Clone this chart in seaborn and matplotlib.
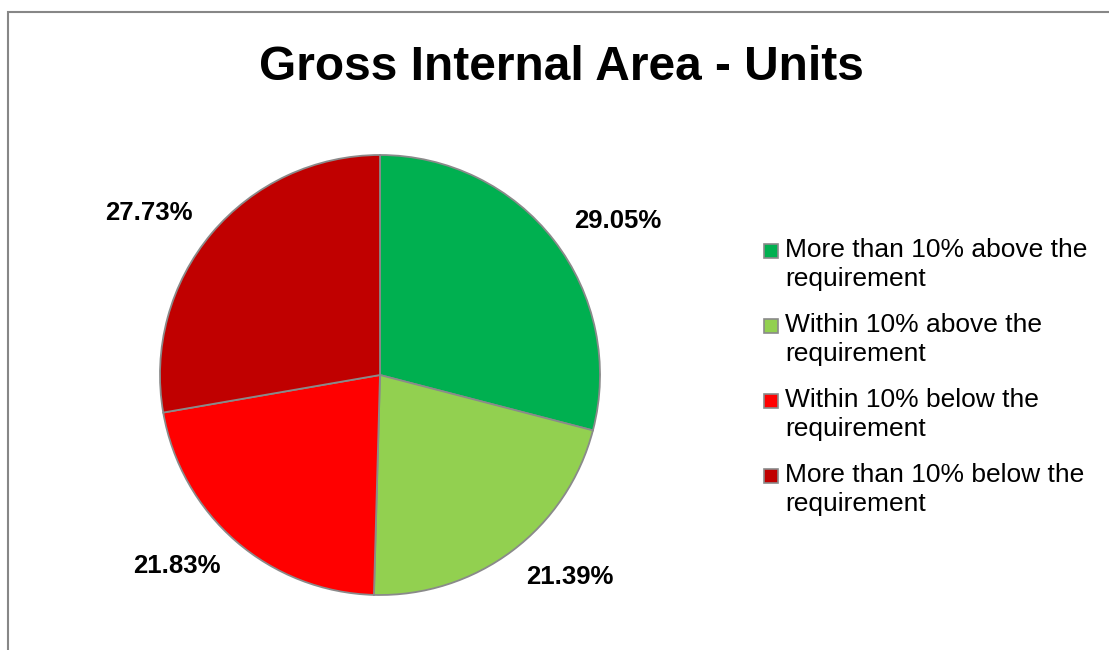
import textwrap
import numpy as np
import matplotlib
matplotlib.use("Agg")
import matplotlib.pyplot as plt
import matplotlib.transforms as mtransforms
from matplotlib.patches import Rectangle
import seaborn as sns

# Datos del gráfico
categorias = [
    "More than 10% above the requirement",
    "Within 10% above the requirement",
    "Within 10% below the requirement",
    "More than 10% below the requirement",
]
porcentajes = [29.05, 21.39, 21.83, 27.73]
colores = ["#00B050", "#92D050", "#FF0000", "#C00000"]
titulo = "Gross Internal Area - Units"

sns.set_theme(style="white")
plt.rcParams["font.family"] = ["Liberation Sans", "DejaVu Sans"]

fig = plt.figure(figsize=(11.09, 6.5), dpi=100)

# Marco exterior gris
fig.patches.append(Rectangle((8 / 1109, -0.05), 1.2, (650 - 12) / 650 + 0.05,
                             transform=fig.transFigure, fill=False,
                             edgecolor="#878787", linewidth=1.5))

ax = fig.add_axes([160 / 1109, 55 / 650, 440 / 1109, 440 / 650])
wedges, textos, autotextos = ax.pie(
    porcentajes, colors=colores, startangle=90, counterclock=False,
    autopct=lambda p: f"{p:.2f}%", pctdistance=1.147,
    wedgeprops=dict(edgecolor="#8a8a8a", linewidth=1.3),
    textprops=dict(fontsize=18.5, fontweight="bold", color="black"),
)
ax.set_xlim(-1, 1)
ax.set_ylim(-1, 1)
ax.set_aspect("equal")

# Etiquetas tipo "extremo externo": desplazadas horizontalmente hacia fuera
for t in autotextos:
    x, _ = t.get_position()
    desplazamiento = 38 if x > 0 else -38
    t.set_transform(mtransforms.offset_copy(ax.transData, fig=fig,
                                            x=desplazamiento, y=0, units="dots"))
    t.set_clip_on(False)

fig.text(561 / 1109, 1 - 67 / 650, titulo, ha="center", va="center",
         fontsize=34.5, fontweight="bold", color="black")

# Leyenda manual con etiquetas de dos líneas
y0 = 1 - 251 / 650
paso = 75 / 650
for i, (cat, col) in enumerate(zip(categorias, colores)):
    y = y0 - i * paso
    fig.patches.append(Rectangle((764 / 1109, y - 7 / 650), 14 / 1109, 14 / 650,
                                 transform=fig.transFigure, facecolor=col,
                                 edgecolor="#8a8a8a", linewidth=1.2))
    fig.text(785 / 1109, y + 13 / 650, textwrap.fill(cat, 24), ha="left", va="top",
             fontsize=19, color="black", linespacing=1.25)

fig.savefig("out.png", dpi=100)
